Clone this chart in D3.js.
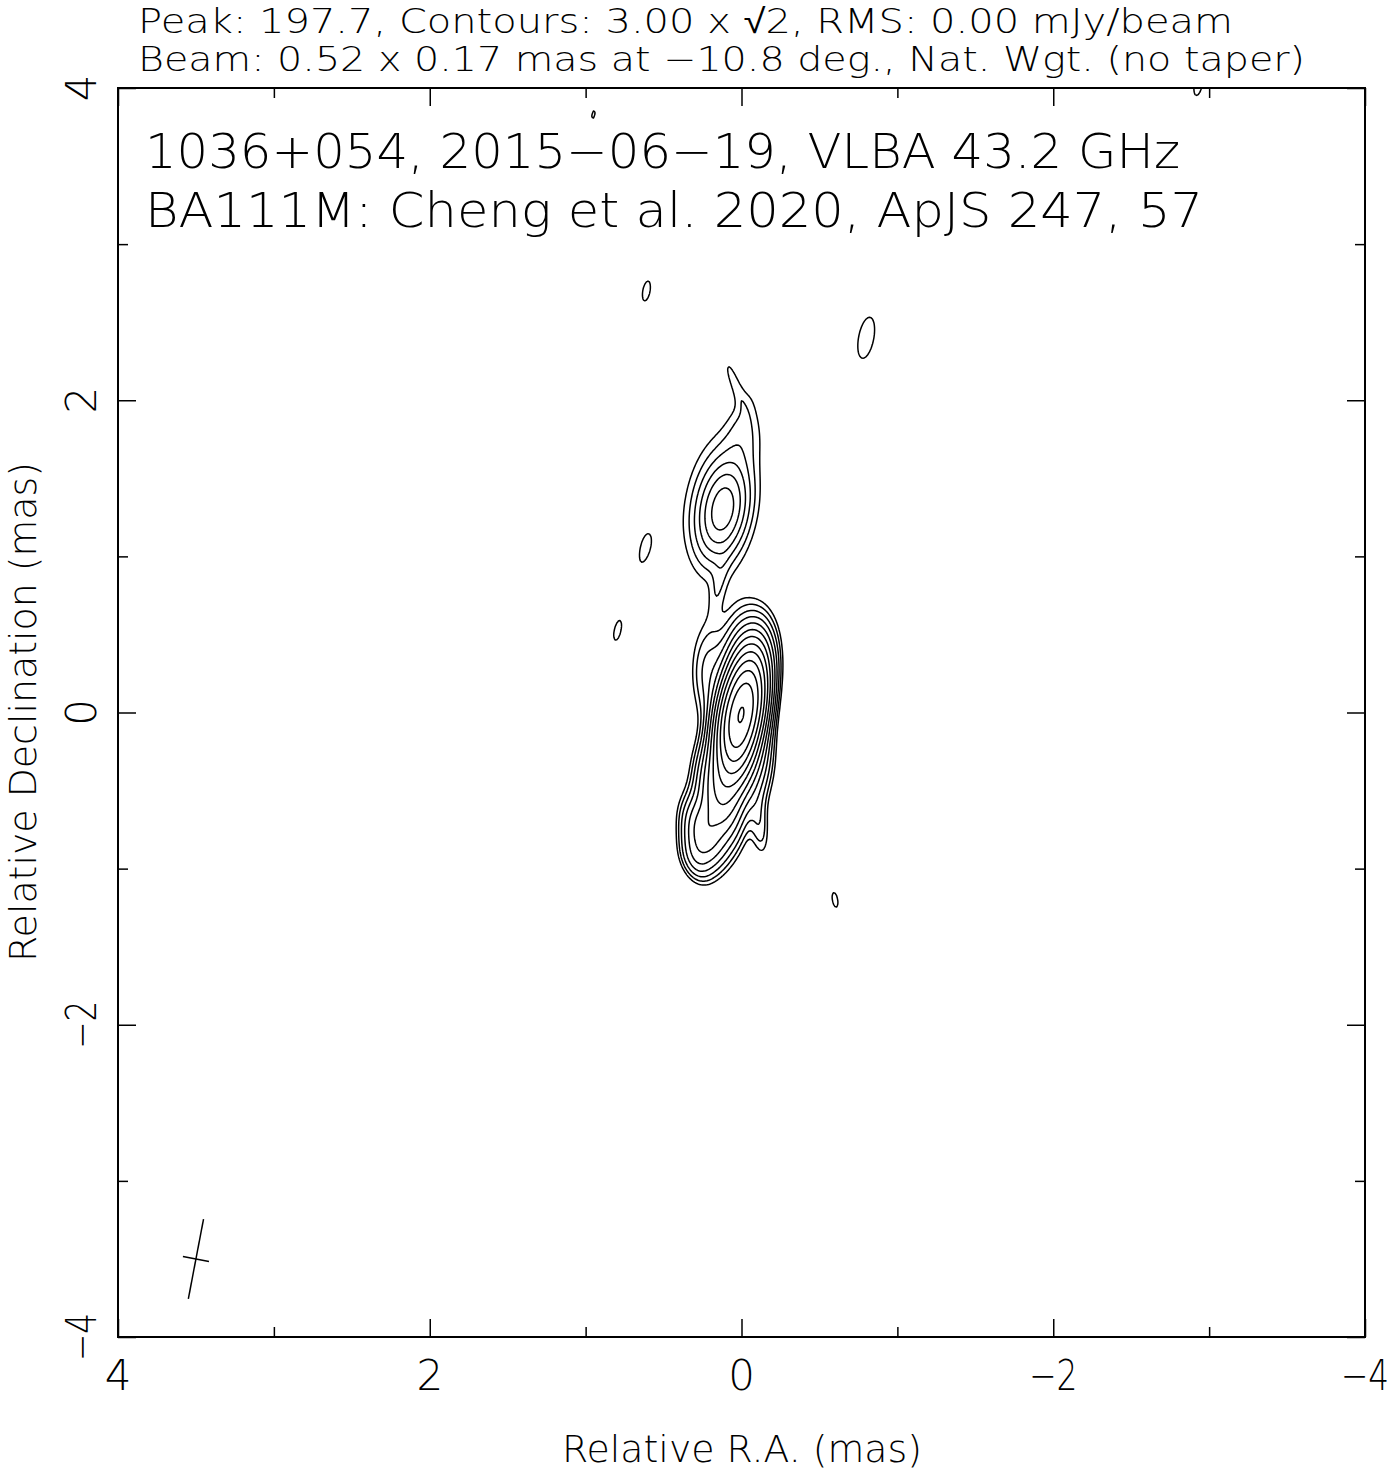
<!DOCTYPE html>
<html>
<head>
<meta charset="utf-8">
<script src="https://cdn.jsdelivr.net/npm/d3@7"></script>
<style>
  body { margin: 0; background: #fff; }
  text { font-family: "DejaVu Sans", sans-serif; font-weight: 200; fill: #000; }
</style>
</head>
<body>
<div id="canvas"></div>
<script>
// contour levels: 3.00 mJy/beam x sqrt(2)^k
const levels = [3.00, 4.24, 6.00, 8.49, 12.0, 16.97, 24.0, 33.94, 48.0, 67.88, 96.0, 135.76, 192.0];

// gaussian components (RA, Dec in mas, peak in mJy/beam, FWHM in mas, PA in deg)
//                core   C1     C2     S1     S2     spur   Wtop   E1     Wlow   N0     Nenv   Nsh    T1     T2     bridge blobs...
const compRA   = [0.00,  0.03,  0.15,  0.25,  0.30, -0.12, -0.03,  0.22, -0.13,  0.12,  0.13, -0.04, -0.03,  0.06,  0.15,  0.61, -0.80, 0.62, 0.80, 0.95, -0.60, -2.93];
const compDec  = [0.00, -0.30, -0.55, -0.78, -0.95, -0.74,  0.38,  0.25, -0.35,  1.30,  1.33,  1.78,  1.97,  2.15,  0.80,  2.70,  2.40, 1.06, 0.51, 3.83, -1.20, 4.02];
const compPeak = [184,   28,    22,    18,    6,     4.4,   11,    6,     6,     15,    6.5,   1.8,   1.6,   3.1,   2.1,   3.13,  3.6,  2.96, 3.03, 3.02, 3.07,  3.15];
const compMaj  = [0.52,  0.50,  0.45,  0.35,  0.25,  0.35,  0.45,  0.50,  0.45,  0.40,  0.85,  0.35,  0.45,  0.30,  0.35,  0.52,  0.52, 0.52, 0.52, 0.52, 0.52,  0.52];
const compMin  = [0.19,  0.19,  0.20,  0.19,  0.15,  0.10,  0.25,  0.18,  0.15,  0.20,  0.42,  0.20,  0.15,  0.07,  0.08,  0.19,  0.19, 0.19, 0.19, 0.19, 0.19,  0.19];
const compPA   = [-10.8, -5,    10,    15,    20,    5,    -5,     0,    -5,    -10,   -8,    -10,   -15,    20,   -10,   -10.8, -10.8, -10.8, -10.8, -10.8, 10, -10.8];

const raMajor = [4, 2, 0, -2, -4];
const raMinor = [3, 1, -1, -3];
const decMajor = [4, 2, 0, -2, -4];
const decMinor = [3, 1, -1, -3];
const tickLabels = ["4", "2", "0", "\u22122", "\u22124"];

const beamMaj = 0.52, beamMin = 0.17, beamPA = -10.8;
const beamPos = [3.5, -3.5];

const headerLines = [
  "Peak: 197.7, Contours: 3.00 x \u221A2, RMS: 0.00 mJy/beam",
  "Beam: 0.52 x 0.17 mas at \u221210.8 deg., Nat. Wgt. (no taper)"
];
const titleLines = [
  "1036+054, 2015\u221206\u221219, VLBA 43.2 GHz",
  "BA111M: Cheng et al. 2020, ApJS 247, 57"
];

const width = 1394, height = 1472;
const pLeft = 118, pRight = 1365, pTop = 88, pBottom = 1337;

const svg = d3.select("#canvas").append("svg")
  .attr("width", width).attr("height", height);

const x = d3.scaleLinear().domain([4, -4]).range([pLeft, pRight]);
const y = d3.scaleLinear().domain([4, -4]).range([pTop, pBottom]);

// brightness grid
const n = 801, step = 0.01;
const gridRA = d3.scaleLinear().domain([0.5, n - 0.5]).range([4, -4]);
const gridDec = d3.scaleLinear().domain([0.5, n - 0.5]).range([4, -4]);
const values = new Float64Array(n * n);
const k = 4 * Math.LN2;
compRA.forEach((ra0, c) => {
  const dec0 = compDec[c];
  const pa = compPA[c] * Math.PI / 180, s = Math.sin(pa), co = Math.cos(pa);
  const a2 = compMaj[c] ** 2, b2 = compMin[c] ** 2, p = compPeak[c];
  const r = compMaj[c] * 2;
  const i0 = Math.max(0, Math.floor((4 - (ra0 + r)) / step));
  const i1 = Math.min(n - 1, Math.ceil((4 - (ra0 - r)) / step));
  const j0 = Math.max(0, Math.floor((4 - (dec0 + r)) / step));
  const j1 = Math.min(n - 1, Math.ceil((4 - (dec0 - r)) / step));
  for (let j = j0; j <= j1; j++) {
    const dd = (4 - j * step) - dec0;
    for (let i = i0; i <= i1; i++) {
      const dr = (4 - i * step) - ra0;
      const u = dr * s + dd * co, v = dr * co - dd * s;
      values[j * n + i] += p * Math.exp(-k * (u * u / a2 + v * v / b2));
    }
  }
});

const contours = d3.contours().size([n, n]).thresholds(levels)(values);
const proj = d3.geoTransform({
  point: function(px, py) { this.stream.point(x(gridRA(px)), y(gridDec(py))); }
});
const path = d3.geoPath(proj);

svg.append("clipPath").attr("id", "clip")
  .append("rect").attr("x", pLeft).attr("y", pTop)
  .attr("width", pRight - pLeft).attr("height", pBottom - pTop);

svg.append("g").attr("clip-path", "url(#clip)")
  .selectAll("path").data(contours).enter().append("path")
  .attr("d", path)
  .attr("fill", "none")
  .attr("stroke", "#000")
  .attr("stroke-width", 1.5)
  .attr("stroke-linejoin", "round");

// frame + ticks
function tickAxis(axis, tr, vals, size) {
  svg.append("g").attr("transform", tr)
    .call(axis.tickValues(vals).tickSize(-size).tickFormat(""))
    .call(g => g.select(".domain").remove())
    .selectAll("line").attr("stroke", "#000").attr("stroke-width", 1.5);
}
tickAxis(d3.axisBottom(x), `translate(0,${pBottom})`, raMajor, 18);
tickAxis(d3.axisBottom(x), `translate(0,${pBottom})`, raMinor, 10);
tickAxis(d3.axisTop(x), `translate(0,${pTop})`, raMajor, 18);
tickAxis(d3.axisTop(x), `translate(0,${pTop})`, raMinor, 10);
tickAxis(d3.axisLeft(y), `translate(${pLeft},0)`, decMajor, 18);
tickAxis(d3.axisLeft(y), `translate(${pLeft},0)`, decMinor, 10);
tickAxis(d3.axisRight(y), `translate(${pRight},0)`, decMajor, 18);
tickAxis(d3.axisRight(y), `translate(${pRight},0)`, decMinor, 10);

svg.append("rect").attr("x", pLeft).attr("y", pTop)
  .attr("width", pRight - pLeft).attr("height", pBottom - pTop)
  .attr("fill", "none").attr("stroke", "#000").attr("stroke-width", 2);

// tick labels (labels with a minus sign are squeezed horizontally, like the narrow plot font)
const sq = i => tickLabels[i].length > 1 ? 0.78 : 1;
svg.append("g").selectAll("text").data(raMajor).enter().append("text")
  .attr("transform", (d, i) => `translate(${x(d)},1390) scale(${sq(i)},1)`)
  .attr("text-anchor", "middle").attr("font-size", 42)
  .text((d, i) => tickLabels[i]);

svg.append("g").selectAll("text").data(decMajor).enter().append("text")
  .attr("transform", (d, i) => `translate(96,${y(d)}) rotate(-90) scale(${sq(i)},1)`)
  .attr("text-anchor", "middle").attr("font-size", 42)
  .text((d, i) => tickLabels[i]);

// axis titles
svg.append("text").attr("x", 742).attr("y", 1462)
  .attr("text-anchor", "middle").attr("font-size", 38)
  .attr("textLength", 360).attr("lengthAdjust", "spacingAndGlyphs")
  .text("Relative R.A. (mas)");
svg.append("text").attr("transform", "translate(36,712) rotate(-90)")
  .attr("text-anchor", "middle").attr("font-size", 38)
  .attr("textLength", 500).attr("lengthAdjust", "spacingAndGlyphs")
  .text("Relative Declination (mas)");

// header
const headerLen = [1095, 1167];
svg.append("g").selectAll("text").data(headerLines).enter().append("text")
  .attr("x", 138).attr("y", (d, i) => 33 + i * 38)
  .attr("font-size", 34)
  .attr("textLength", (d, i) => headerLen[i]).attr("lengthAdjust", "spacingAndGlyphs")
  .text(d => d);

// title inside plot
const titleLen = [1035, 1058];
svg.append("g").selectAll("text").data(titleLines).enter().append("text")
  .attr("x", 145).attr("y", (d, i) => 168 + i * 59)
  .attr("font-size", 48)
  .attr("textLength", (d, i) => titleLen[i]).attr("lengthAdjust", "spacingAndGlyphs")
  .text(d => d);

// beam cross
const bpa = beamPA * Math.PI / 180;
const bx = beamPos[0], by = beamPos[1];
const beamLines = [
  [[bx + Math.sin(bpa) * beamMaj / 2, by + Math.cos(bpa) * beamMaj / 2],
   [bx - Math.sin(bpa) * beamMaj / 2, by - Math.cos(bpa) * beamMaj / 2]],
  [[bx + Math.cos(bpa) * beamMin / 2, by - Math.sin(bpa) * beamMin / 2],
   [bx - Math.cos(bpa) * beamMin / 2, by + Math.sin(bpa) * beamMin / 2]]
];
svg.append("g").selectAll("line").data(beamLines).enter().append("line")
  .attr("x1", d => x(d[0][0])).attr("y1", d => y(d[0][1]))
  .attr("x2", d => x(d[1][0])).attr("y2", d => y(d[1][1]))
  .attr("stroke", "#000").attr("stroke-width", 1.5);
</script>
</body>
</html>
